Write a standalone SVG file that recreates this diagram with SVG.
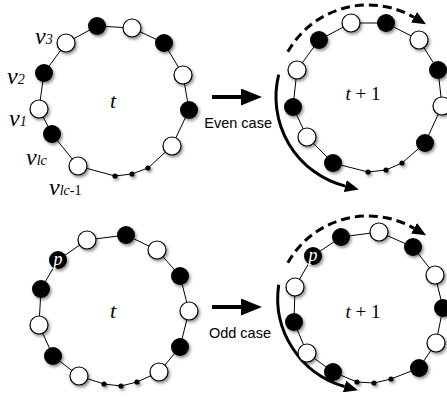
<svg xmlns="http://www.w3.org/2000/svg" width="447" height="403" viewBox="0 0 447 403">
<style>
.b{fill:#000}
.w{fill:#fff;stroke:#000;stroke-width:1.2}
.d{fill:#000}
.ring{fill:none;stroke:#000;stroke-width:1}
.lab{font-family:"Liberation Serif",serif;font-style:italic;fill:#000}
.cap{font-family:"Liberation Sans",Arial,sans-serif;font-size:14.5px;fill:#000}
.arc{fill:none;stroke:#000;stroke-width:3}
.dash{stroke-dasharray:9 5}
.big{fill:none;stroke:#000;stroke-width:4}
.plab{font-family:"Liberation Serif",serif;font-style:italic;font-size:18px;fill:#fff}
</style>
<defs>
<filter id="sh" x="-60%" y="-60%" width="220%" height="220%">
<feDropShadow dx="1.5" dy="2" stdDeviation="1.8" flood-color="#000" flood-opacity="0.45"/>
</filter>
<marker id="ah" viewBox="0 0 14 12" markerWidth="14" markerHeight="12" refX="0" refY="6" orient="auto" markerUnits="userSpaceOnUse">
<path d="M0,0 L14,6 L0,12 z" fill="#000"/>
</marker>
<marker id="ah2" viewBox="0 0 21 17" markerWidth="21" markerHeight="17" refX="1" refY="8.5" orient="auto" markerUnits="userSpaceOnUse">
<path d="M0,0 L21,8.5 L0,17 z" fill="#000"/>
</marker>
</defs>
<rect width="447" height="403" fill="#fff"/>

<g id="connectors">
<polygon class="ring" points="97,26 132,28 164,43 183,75 189,110 172,146 148,168 132,174 115,176 78,166 52,134 39,109 44,73 66,43"/>
<polygon class="ring" points="351,23 386,23 419,40 438,70 442,106 425,143 402,163 386,170 368,172 333,163 307,137 293,107 297,70 319,40"/>
<polygon class="ring" points="126,235 157,250 180,276 189,311 180,347 159,372 137,382 121,386 104,384 79,376 53,356 39,325 41,289 58,260 87,240"/>
<polygon class="ring" points="379,232 413,247 435,275 443,308 436,343 419,368 391,379 374,383 357,382 333,372 307,353 294,322 295,287 313,256 341,237"/>
<line class="big" x1="212" y1="97" x2="242" y2="97" marker-end="url(#ah2)"/>
<line class="big" x1="212" y1="307" x2="242" y2="307" marker-end="url(#ah2)"/>
<path class="arc dash" d="M287.8,51.8 A92,92 0 0 1 414,17.3" marker-end="url(#ah)"/>
<path class="arc" d="M278.7,74.7 A92,92 0 0 0 345.3,186.1" marker-end="url(#ah)"/>
<path class="arc dash" d="M287.8,262.8 A92,92 0 0 1 414,228.3" marker-end="url(#ah)"/>
<path class="arc" d="M278.7,284.7 A92,92 0 0 0 344.5,386.5" marker-end="url(#ah)"/>
</g>

<g id="ring-t-even" filter="url(#sh)">
<g id="a1"><circle class="b" cx="97" cy="26" r="9"/></g>
<g id="a2"><circle class="w" cx="132" cy="28" r="9"/></g>
<g id="a3"><circle class="b" cx="164" cy="43" r="9"/></g>
<g id="a4"><circle class="w" cx="183" cy="75" r="9"/></g>
<g id="a5"><circle class="b" cx="189" cy="110" r="9"/></g>
<g id="a6"><circle class="w" cx="172" cy="146" r="9"/></g>
<g id="a7"><circle class="d" cx="148" cy="168" r="2.6"/></g>
<g id="a8"><circle class="d" cx="132" cy="174" r="2.6"/></g>
<g id="a9"><circle class="d" cx="115" cy="176" r="2.6"/></g>
<g id="a10"><circle class="w" cx="78" cy="166" r="9"/></g>
<g id="a11"><circle class="b" cx="52" cy="134" r="9"/></g>
<g id="a12"><circle class="w" cx="39" cy="109" r="9"/></g>
<g id="a13"><circle class="b" cx="44" cy="73" r="9"/></g>
<g id="a14"><circle class="w" cx="66" cy="43" r="9"/></g>
</g>

<g id="ring-t1-even" filter="url(#sh)">
<g id="b1"><circle class="w" cx="351" cy="23" r="9"/></g>
<g id="b2"><circle class="b" cx="386" cy="23" r="9"/></g>
<g id="b3"><circle class="w" cx="419" cy="40" r="9"/></g>
<g id="b4"><circle class="b" cx="438" cy="70" r="9"/></g>
<g id="b5"><circle class="w" cx="442" cy="106" r="9"/></g>
<g id="b6"><circle class="b" cx="425" cy="143" r="9"/></g>
<g id="b7"><circle class="d" cx="402" cy="163" r="2.6"/></g>
<g id="b8"><circle class="d" cx="386" cy="170" r="2.6"/></g>
<g id="b9"><circle class="d" cx="368" cy="172" r="2.6"/></g>
<g id="b10"><circle class="b" cx="333" cy="163" r="9"/></g>
<g id="b11"><circle class="w" cx="307" cy="137" r="9"/></g>
<g id="b12"><circle class="b" cx="293" cy="107" r="9"/></g>
<g id="b13"><circle class="w" cx="297" cy="70" r="9"/></g>
<g id="b14"><circle class="b" cx="319" cy="40" r="9"/></g>
</g>

<g id="ring-t-odd" filter="url(#sh)">
<g id="c1"><circle class="b" cx="126" cy="235" r="9"/></g>
<g id="c2"><circle class="w" cx="157" cy="250" r="9"/></g>
<g id="c3"><circle class="b" cx="180" cy="276" r="9"/></g>
<g id="c4"><circle class="w" cx="189" cy="311" r="9"/></g>
<g id="c5"><circle class="b" cx="180" cy="347" r="9"/></g>
<g id="c6"><circle class="w" cx="159" cy="372" r="9"/></g>
<g id="c7"><circle class="d" cx="137" cy="382" r="2.6"/></g>
<g id="c8"><circle class="d" cx="121" cy="386" r="2.6"/></g>
<g id="c9"><circle class="d" cx="104" cy="384" r="2.6"/></g>
<g id="c10"><circle class="w" cx="79" cy="376" r="9"/></g>
<g id="c11"><circle class="b" cx="53" cy="356" r="9"/></g>
<g id="c12"><circle class="w" cx="39" cy="325" r="9"/></g>
<g id="c13"><circle class="b" cx="41" cy="289" r="9"/></g>
<g id="c14"><circle class="b" cx="58" cy="260" r="9"/></g>
<g id="c15"><circle class="w" cx="87" cy="240" r="9"/></g>
</g>

<g id="ring-t1-odd" filter="url(#sh)">
<g id="e1"><circle class="w" cx="379" cy="232" r="9"/></g>
<g id="e2"><circle class="b" cx="413" cy="247" r="9"/></g>
<g id="e3"><circle class="w" cx="435" cy="275" r="9"/></g>
<g id="e4"><circle class="b" cx="443" cy="308" r="9"/></g>
<g id="e5"><circle class="w" cx="436" cy="343" r="9"/></g>
<g id="e6"><circle class="b" cx="419" cy="368" r="9"/></g>
<g id="e7"><circle class="d" cx="391" cy="379" r="2.6"/></g>
<g id="e8"><circle class="d" cx="374" cy="383" r="2.6"/></g>
<g id="e9"><circle class="d" cx="357" cy="382" r="2.6"/></g>
<g id="e10"><circle class="b" cx="333" cy="372" r="9"/></g>
<g id="e11"><circle class="w" cx="307" cy="353" r="9"/></g>
<g id="e12"><circle class="b" cx="294" cy="322" r="9"/></g>
<g id="e13"><circle class="w" cx="295" cy="287" r="9"/></g>
<g id="e14"><circle class="b" cx="313" cy="256" r="9"/></g>
<g id="e15"><circle class="b" cx="341" cy="237" r="9"/></g>
</g>

<g id="labels">
<text class="plab" x="58" y="265" text-anchor="middle">p</text>
<text class="plab" x="313" y="261" text-anchor="middle">p</text>
<text class="lab" x="35" y="44" font-size="24">v<tspan font-size="14">3</tspan></text>
<text class="lab" x="7" y="84" font-size="24">v<tspan font-size="14">2</tspan></text>
<text class="lab" x="9" y="126" font-size="24">v<tspan font-size="14">1</tspan></text>
<text class="lab" x="26" y="165" font-size="24">v<tspan font-size="14">lc</tspan></text>
<text class="lab" x="49" y="195" font-size="24">v<tspan font-size="14">lc</tspan><tspan font-size="14" font-style="normal">-1</tspan></text>
<text class="lab" x="113" y="108" font-size="22" text-anchor="middle">t</text>
<text class="lab" x="113" y="318" font-size="22" text-anchor="middle">t</text>
<text class="lab" x="363" y="100" font-size="19" text-anchor="middle">t<tspan font-style="normal"> + 1</tspan></text>
<text class="lab" x="363" y="318" font-size="19" text-anchor="middle">t<tspan font-style="normal"> + 1</tspan></text>
<text class="cap" x="272" y="128" text-anchor="end">Even case</text>
<text class="cap" x="271" y="338" text-anchor="end">Odd case</text>
</g>
</svg>
